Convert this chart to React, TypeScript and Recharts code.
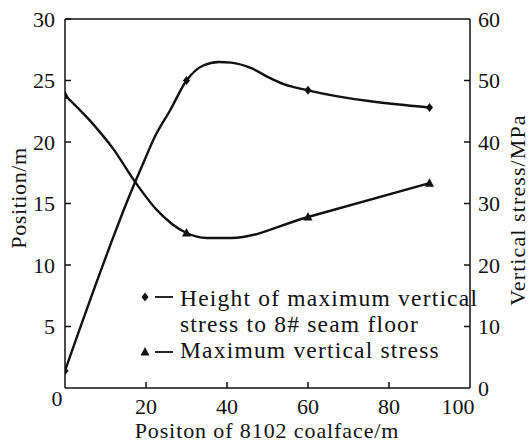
import { LineChart, Line, XAxis, YAxis, ReferenceLine, Legend } from "recharts";

// Position along the 8102 coalface (m)
const heightPos = [0, 17, 20, 22, 26, 30, 34, 38, 41, 46, 50, 54, 60, 90];
// Height of maximum vertical stress to 8# seam floor (m)
const heightVal = [1.4, 16.5, 18.8, 20.3, 22.6, 25, 26.2, 26.5, 26.45, 26.0, 25.3, 24.7, 24.2, 22.8];

const stressPos = [0, 6, 12, 17, 22.6, 30, 35, 41, 60, 90];
// Maximum vertical stress (MPa)
const stressVal = [47.6, 43.6, 38.8, 33.8, 29, 25.2, 24.4, 24.4, 27.8, 33.3];

// measured points carry a marker
const markedPos = [0, 30, 60, 90];

const xTicks = [0, 20, 40, 60, 80, 100];
const leftTicks = [0, 5, 10, 15, 20, 25, 30];
const rightTicks = [0, 10, 20, 30, 40, 50, 60];

const heightData = heightPos.map((x, i) => ({ x, h: heightVal[i], mark: markedPos.includes(x) }));
const stressData = stressPos.map((x, i) => ({ x, s: stressVal[i], mark: markedPos.includes(x) }));

const FONT = "'Liberation Serif', 'Times New Roman', serif";
const INK = "#111";

const LeftTick = ({ x, y, payload }: any) => {
  const v = payload.value;
  if (v === 0) {
    return (
      <text x={x - 8} y={y + 10} dy="0.35em" textAnchor="middle" fontFamily={FONT} fontSize={22} fill={INK}>
        0
      </text>
    );
  }
  return (
    <g>
      <line x1={x} y1={y} x2={x + 6} y2={y} stroke={INK} strokeWidth={1.5} />
      <text x={x - 10} y={y} dy="0.35em" textAnchor="end" fontFamily={FONT} fontSize={22} fill={INK}>
        {v}
      </text>
    </g>
  );
};

const RightTick = ({ x, y, payload }: any) => {
  const v = payload.value;
  return (
    <g>
      {v !== 0 && v !== 60 && <line x1={x} y1={y} x2={x - 6} y2={y} stroke={INK} strokeWidth={1.5} />}
      <text x={x + 8} y={y} dy="0.35em" textAnchor="start" fontFamily={FONT} fontSize={22} fill={INK}>
        {v}
      </text>
    </g>
  );
};

const BottomTick = ({ x, y, payload }: any) => {
  const v = payload.value;
  if (v === 0) return <g />;
  return (
    <g>
      {v !== 100 && <line x1={x} y1={y} x2={x} y2={y - 6} stroke={INK} strokeWidth={1.5} />}
      <text x={v === 100 ? x - 12 : x} y={y + 26} textAnchor="middle" fontFamily={FONT} fontSize={22} fill={INK}>
        {v}
      </text>
    </g>
  );
};

const Diamond = ({ cx, cy }: { cx: number; cy: number }) => (
  <path d={`M${cx},${cy - 4.5} L${cx + 3.5},${cy} L${cx},${cy + 4.5} L${cx - 3.5},${cy} Z`} fill={INK} />
);

const Triangle = ({ cx, cy }: { cx: number; cy: number }) => (
  <path d={`M${cx},${cy - 5} L${cx + 4.5},${cy + 3.5} L${cx - 4.5},${cy + 3.5} Z`} fill={INK} />
);

const heightDot = (p: any) =>
  p.payload.mark ? <Diamond key={`h${p.index}`} cx={p.cx} cy={p.cy} /> : <g key={`h${p.index}`} />;
const stressDot = (p: any) =>
  p.payload.mark ? <Triangle key={`s${p.index}`} cx={p.cx} cy={p.cy} /> : <g key={`s${p.index}`} />;

const LegendBox = () => (
  <svg width={330} height={80} style={{ display: "block", overflow: "visible" }}>
    <g fontFamily={FONT} fontSize={23.5} fill={INK} letterSpacing={1.2}>
      <Diamond cx={9} cy={13} />
      <line x1={19} y1={13} x2={37} y2={13} stroke={INK} strokeWidth={1.8} />
      <text x={44} y={22}>Height of maximum vertical</text>
      <text x={44} y={48}>stress to 8# seam floor</text>
      <Triangle cx={9} cy={68} />
      <line x1={19} y1={68} x2={37} y2={68} stroke={INK} strokeWidth={1.8} />
      <text x={44} y={74}>Maximum vertical stress</text>
    </g>
  </svg>
);

export default function App() {
  return (
    <div style={{ position: "absolute", left: 0, top: 0, background: "#fff" }}>
      <LineChart width={529} height={443} margin={{ top: 19, right: 0, bottom: 0, left: 0 }}>
        <XAxis
          type="number"
          dataKey="x"
          domain={[0, 100]}
          ticks={xTicks}
          allowDataOverflow
          height={55}
          tickLine={false}
          tickSize={0}
          tickMargin={0}
          tick={<BottomTick />}
          axisLine={{ stroke: INK, strokeWidth: 1.5 }}
          label={{
            content: () => (
              <text x={267} y={438} textAnchor="middle" fontFamily={FONT} fontSize={22} fill={INK} letterSpacing={0.9}>
                Positon of 8102 coalface/m
              </text>
            ),
          }}
        />
        <YAxis
          yAxisId="left"
          orientation="left"
          domain={[0, 30]}
          ticks={leftTicks}
          width={65}
          tickLine={false}
          tickSize={0}
          tickMargin={0}
          tick={<LeftTick />}
          axisLine={{ stroke: INK, strokeWidth: 1.5 }}
          label={{
            content: () => (
              <text transform="translate(26,198) rotate(-90)" textAnchor="middle" fontFamily={FONT} fontSize={22} fill={INK} letterSpacing={0.6}>
                Position/m
              </text>
            ),
          }}
        />
        <YAxis
          yAxisId="right"
          orientation="right"
          domain={[0, 60]}
          ticks={rightTicks}
          width={59}
          tickLine={false}
          tickSize={0}
          tickMargin={0}
          tick={<RightTick />}
          axisLine={{ stroke: INK, strokeWidth: 1.5 }}
          label={{
            content: () => (
              <text transform="translate(525,210) rotate(-90)" textAnchor="middle" fontFamily={FONT} fontSize={22} fill={INK} letterSpacing={1.1}>
                Vertical stress/MPa
              </text>
            ),
          }}
        />
        <ReferenceLine yAxisId="left" y={30} stroke={INK} strokeWidth={1.5} />
        <Line
          yAxisId="left"
          data={heightData}
          dataKey="h"
          type="monotone"
          stroke={INK}
          strokeWidth={2.4}
          dot={heightDot}
          activeDot={false}
          isAnimationActive={false}
        />
        <Line
          yAxisId="right"
          data={stressData}
          dataKey="s"
          type="monotone"
          stroke={INK}
          strokeWidth={2.4}
          dot={stressDot}
          activeDot={false}
          isAnimationActive={false}
        />
        <Legend
          layout="vertical"
          align="center"
          verticalAlign="middle"
          content={() => <LegendBox />}
          wrapperStyle={{ position: "absolute", left: 136, top: 284, width: 330, height: 80 }}
        />
      </LineChart>
    </div>
  );
}
